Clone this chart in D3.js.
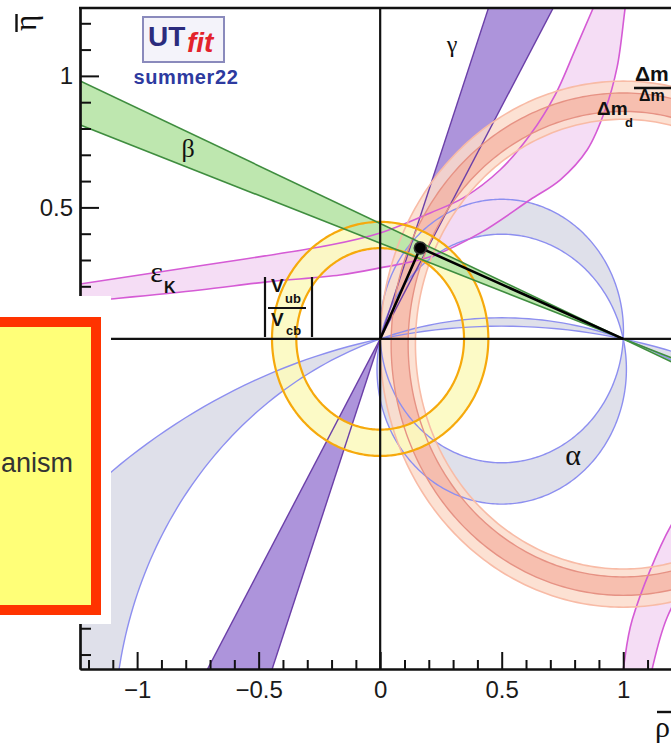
<!DOCTYPE html>
<html>
<head>
<meta charset="utf-8">
<script src="https://cdn.jsdelivr.net/npm/d3@7"></script>
<style>
  body { margin: 0; background: #fff; }
  svg { display: block; }
</style>
</head>
<body>
<svg id="chart" width="671" height="751"></svg>
<script>
// ---- Tick values -------------------------------------------------------
const xMajorTicks = [-1, -0.5, 0, 0.5, 1];
const xMinorTicks = [-1.2, -1.1, -0.9, -0.8, -0.7, -0.6, -0.4, -0.3, -0.2, -0.1,
                     0.1, 0.2, 0.3, 0.4, 0.6, 0.7, 0.8, 0.9, 1.1, 1.2];
const yMajorTicks = [-1, -0.5, 0, 0.5, 1];
const yLabelTicks = [0.5, 1];
const yMinorTicks = [-1.2, -1.1, -0.9, -0.8, -0.7, -0.6, -0.4, -0.3, -0.2, -0.1,
                     0.1, 0.2, 0.3, 0.4, 0.6, 0.7, 0.8, 0.9, 1.1, 1.2];

// ---- Unitarity-triangle constraints (rho-bar, eta-bar plane) -------------
const apex = [0.165, 0.346];                 // fitted apex of the triangle
const betaAngles = [20.0, 23.7];             // deg, band of lines through (1,0)
const gammaAngles = [60.5, 70.5];            // deg, band of lines through (0,0)
const vubRadii = [0.345, 0.445];             // |Vub/Vcb| annulus about (0,0)
const dmCentre = [1, -0.02];                 // centre of the Δm annuli
const dmdRadii = [0.855, 1.0];               // Δm_d annulus
const dmsRadii = [0.885, 0.955];             // Δm_s/Δm_d annulus
const alphaCentresA = [[0.5, 0.03], [0.5, -0.115]];   // circles through (0,0),(1,0)
const alphaCentresB = [[0.5, -1.515], [0.5, -2.557]]; // mirror solution
// ε_K band, upper-left branch edges
const epsUpperEdge = [[-1.40, 0.186], [-1.235, 0.209], [-0.741, 0.278], [-0.206, 0.357],
  [0, 0.403], [0.206, 0.479], [0.342, 0.536], [0.494, 0.643], [0.617, 0.776],
  [0.720, 0.928], [0.802, 1.099], [0.877, 1.259], [0.943, 1.40]];
const epsLowerEdge = [[-1.40, 0.128], [-1.235, 0.141], [-1.107, 0.152], [-0.741, 0.186],
  [-0.465, 0.217], [-0.165, 0.243], [0, 0.270], [0.206, 0.312], [0.412, 0.403],
  [0.617, 0.529], [0.741, 0.605], [0.852, 0.719], [0.926, 0.871], [0.975, 1.034],
  [1.008, 1.259], [1.029, 1.40]];
// ε_K band, lower-right branch edges
const epsRightEdgeA = [[0.975, -1.40], [1.0, -1.255], [1.037, -1.068], [1.198, -0.707], [1.30, -0.58]];
const epsRightEdgeB = [[1.09, -1.40], [1.119, -1.255], [1.18, -1.06], [1.30, -0.86]];

// ---- Scales ---------------------------------------------------------------
const x = d3.scaleLinear().domain([-1.235, 1.25]).range([80, 684]);
const y = d3.scaleLinear().domain([-1.255, 1.26]).range([669, 7.5]);

const svg = d3.select('#chart');
svg.append('defs').append('clipPath').attr('id', 'plotClip')
  .append('rect').attr('x', 80).attr('y', 8).attr('width', 604).attr('height', 661);

const plot = svg.append('g').attr('clip-path', 'url(#plotClip)');

// ---- Path helpers ---------------------------------------------------------
function circlePath(cx, cy, r) {
  const n = 360;
  const pts = d3.range(n).map(i => {
    const t = 2 * Math.PI * i / n;
    return [x(cx + r * Math.cos(t)), y(cy + r * Math.sin(t))];
  });
  return 'M' + pts.map(p => p.join(',')).join('L') + 'Z';
}
function doubleWedge(px, py, a1, a2) {
  const L = 4;
  const p = a => [x(px + L * Math.cos(a)), y(py + L * Math.sin(a))].join(',');
  const c = [x(px), y(py)].join(',');
  return `M${c}L${p(a1)}L${p(a2)}Z M${c}L${p(a1 + Math.PI)}L${p(a2 + Math.PI)}Z`;
}
function fullLine(px, py, a) {
  const L = 4;
  return `M${x(px - L * Math.cos(a))},${y(py - L * Math.sin(a))}L${x(px + L * Math.cos(a))},${y(py + L * Math.sin(a))}`;
}
const edge = d3.line().x(d => x(d[0])).y(d => y(d[1])).curve(d3.curveCatmullRom);
function bandBetween(a, b) {
  return edge(a) + edge(b.slice().reverse()).replace(/^M/, 'L') + 'Z';
}
const rad = d => d * Math.PI / 180;
const dist0 = c => Math.hypot(c[0], c[1]);
const alphaCircle = c => circlePath(c[0], c[1], dist0(c));

// ---- Band definitions -----------------------------------------------------
const bands = [
  { // α
    fill: '#dcdde8', stroke: '#8d8ff0', sw: 1.4,
    d: alphaCentresA.map(alphaCircle).join(''),
    lines: alphaCentresA.map(alphaCircle)
  },
  {
    fill: '#dcdde8', stroke: '#8d8ff0', sw: 1.4,
    d: alphaCentresB.map(alphaCircle).join(''),
    lines: alphaCentresB.map(alphaCircle)
  },
  { // γ
    fill: '#a68bd8', stroke: '#6b3fa8', sw: 1.4,
    d: doubleWedge(0, 0, rad(gammaAngles[0]), rad(gammaAngles[1])),
    lines: gammaAngles.map(a => fullLine(0, 0, rad(a)))
  },
  { // ε_K
    fill: '#f4daf4', stroke: '#d55bd5', sw: 1.6,
    d: bandBetween(epsUpperEdge, epsLowerEdge) + bandBetween(epsRightEdgeA, epsRightEdgeB),
    lines: [edge(epsUpperEdge), edge(epsLowerEdge), edge(epsRightEdgeA), edge(epsRightEdgeB)]
  },
  { // Δm_d
    fill: '#fcdccb', stroke: '#f8bba6', sw: 1.6, opacity: 0.85,
    d: dmdRadii.map(r => circlePath(dmCentre[0], dmCentre[1], r)).join(''),
    lines: dmdRadii.map(r => circlePath(dmCentre[0], dmCentre[1], r))
  },
  { // Δm_s/Δm_d
    fill: '#f4a898', stroke: '#e69284', sw: 1.4, opacity: 0.6,
    d: dmsRadii.map(r => circlePath(dmCentre[0], dmCentre[1], r)).join(''),
    lines: dmsRadii.map(r => circlePath(dmCentre[0], dmCentre[1], r))
  },
  { // |Vub/Vcb|
    fill: '#fcf9c0', stroke: '#f6a90c', sw: 2.2, opacity: 0.9,
    d: vubRadii.map(r => circlePath(0, 0, r)).join(''),
    lines: vubRadii.map(r => circlePath(0, 0, r))
  },
  { // β
    fill: '#b8e5a8', stroke: '#3f8d3f', sw: 1.6,
    d: doubleWedge(1, 0, Math.PI - rad(betaAngles[0]), Math.PI - rad(betaAngles[1])),
    lines: betaAngles.map(a => fullLine(1, 0, Math.PI - rad(a)))
  }
];

bands.forEach(b => {
  plot.append('path').attr('d', b.d).attr('fill', b.fill)
    .attr('fill-rule', 'evenodd').attr('fill-opacity', b.opacity || 0.92);
});
bands.forEach(b => {
  b.lines.forEach(l => plot.append('path').attr('d', l).attr('fill', 'none')
    .attr('stroke', b.stroke).attr('stroke-width', b.sw));
});

// ---- Zero lines ------------------------------------------------------------
plot.append('line').attr('x1', 80).attr('x2', 684).attr('y1', y(0)).attr('y2', y(0))
  .attr('stroke', '#111').attr('stroke-width', 2.2);
plot.append('line').attr('x1', x(0)).attr('x2', x(0)).attr('y1', 8).attr('y2', 669)
  .attr('stroke', '#111').attr('stroke-width', 2.2);

// ---- Triangle ------------------------------------------------------------
plot.append('path')
  .attr('d', d3.line().x(d => x(d[0])).y(d => y(d[1]))([[0, 0], apex, [1, 0]]))
  .attr('fill', 'none').attr('stroke', '#000').attr('stroke-width', 2.6)
  .attr('stroke-linejoin', 'round');
plot.append('circle').attr('cx', x(apex[0])).attr('cy', y(apex[1])).attr('r', 6)
  .attr('fill', '#000').attr('stroke', '#333').attr('stroke-width', 1.5);

// ---- Constraint labels ---------------------------------------------------
const serif = '"Liberation Serif", "DejaVu Serif", serif';
const sans = '"Liberation Sans", Arial, sans-serif';
const lab = svg.append('g').attr('fill', '#111');
lab.append('text').attr('x', x(-0.79)).attr('y', y(0.69)).attr('text-anchor', 'middle')
  .attr('font-family', serif).attr('font-size', 26).text('β');
lab.append('text').attr('x', x(0.296)).attr('y', y(1.09)).attr('text-anchor', 'middle')
  .attr('font-family', serif).attr('font-size', 24).text('γ');
lab.append('text').attr('x', x(0.794)).attr('y', y(-0.48)).attr('text-anchor', 'middle')
  .attr('font-family', serif).attr('font-size', 30).text('α');
lab.append('text').attr('x', x(-0.92)).attr('y', y(0.215)).attr('text-anchor', 'middle')
  .attr('font-family', serif).attr('font-size', 30).text('ε');
lab.append('text').attr('x', x(-0.866)).attr('y', y(0.175)).attr('text-anchor', 'middle')
  .attr('font-family', sans).attr('font-weight', 'bold').attr('font-size', 16).text('K');

// Δm_d
lab.append('text').attr('x', 597).attr('y', 115).attr('font-family', sans)
  .attr('font-weight', 'bold').attr('font-size', 19).text('Δm');
lab.append('text').attr('x', 625).attr('y', 127).attr('font-family', sans)
  .attr('font-weight', 'bold').attr('font-size', 13).text('d');
// Δm_s / Δm_d
lab.append('text').attr('x', 635).attr('y', 81).attr('font-family', sans)
  .attr('font-weight', 'bold').attr('font-size', 21).text('Δm');
lab.append('line').attr('x1', 634).attr('x2', 700).attr('y1', 88).attr('y2', 88)
  .attr('stroke', '#111').attr('stroke-width', 2.5);
lab.append('text').attr('x', 639).attr('y', 101).attr('font-family', sans)
  .attr('font-weight', 'bold').attr('font-size', 16).text('Δm');

// |Vub/Vcb|
const vl = lab.append('g');
[265, 312].forEach(px => vl.append('line').attr('x1', px).attr('x2', px)
  .attr('y1', 277).attr('y2', 337).attr('stroke', '#111').attr('stroke-width', 2.2));
vl.append('line').attr('x1', 268).attr('x2', 306).attr('y1', 308).attr('y2', 308)
  .attr('stroke', '#111').attr('stroke-width', 2.2);
vl.append('text').attr('x', 271).attr('y', 292).attr('font-family', sans)
  .attr('font-weight', 'bold').attr('font-size', 19).text('V');
vl.append('text').attr('x', 285).attr('y', 303).attr('font-family', sans)
  .attr('font-weight', 'bold').attr('font-size', 13).text('ub');
vl.append('text').attr('x', 271).attr('y', 326).attr('font-family', sans)
  .attr('font-weight', 'bold').attr('font-size', 19).text('V');
vl.append('text').attr('x', 286).attr('y', 335).attr('font-family', sans)
  .attr('font-weight', 'bold').attr('font-size', 13).text('cb');

// ---- Axes ----------------------------------------------------------------
const fmt = d3.format('~g');
const axX = svg.append('g').attr('transform', 'translate(0,669)')
  .call(d3.axisBottom(x).tickValues(xMajorTicks).tickSize(-17).tickSizeOuter(0)
    .tickPadding(12).tickFormat(fmt));
const axXm = svg.append('g').attr('transform', 'translate(0,669)')
  .call(d3.axisBottom(x).tickValues(xMinorTicks).tickSize(-9).tickSizeOuter(0).tickFormat(''));
const axY = svg.append('g').attr('transform', 'translate(80,0)')
  .call(d3.axisLeft(y).tickValues(yMajorTicks).tickSize(-19).tickSizeOuter(0)
    .tickPadding(7).tickFormat(d => yLabelTicks.includes(d) ? fmt(d) : ''));
const axYm = svg.append('g').attr('transform', 'translate(80,0)')
  .call(d3.axisLeft(y).tickValues(yMinorTicks).tickSize(-11).tickSizeOuter(0).tickFormat(''));
[axX, axXm, axY, axYm].forEach(a => {
  a.selectAll('.domain').attr('stroke', '#111').attr('stroke-width', 2.2);
  a.selectAll('.tick line').attr('stroke', '#111').attr('stroke-width', 2);
  a.selectAll('text').attr('font-family', sans).attr('font-size', 24).attr('fill', '#1a1a1a');
});
axY.selectAll('text').filter(function () { return this.textContent === ''; }).remove();
axXm.selectAll('text').remove();
axYm.selectAll('text').remove();
// top frame edge
svg.append('line').attr('x1', 79).attr('x2', 684).attr('y1', 8).attr('y2', 8)
  .attr('stroke', '#111').attr('stroke-width', 2.6);

// Axis titles
svg.append('text').attr('transform', 'translate(36,23) rotate(-90)')
  .attr('text-anchor', 'middle').attr('font-family', serif).attr('font-size', 31)
  .attr('fill', '#111').text('η');
svg.append('line').attr('x1', 16.5).attr('x2', 16.5).attr('y1', 14).attr('y2', 32)
  .attr('stroke', '#111').attr('stroke-width', 2.4);
svg.append('text').attr('x', 655).attr('y', 737).attr('font-family', serif)
  .attr('font-size', 30).attr('fill', '#111').text('ρ');
svg.append('line').attr('x1', 657).attr('x2', 680).attr('y1', 712).attr('y2', 712)
  .attr('stroke', '#111').attr('stroke-width', 2.4);

// ---- Logo ----------------------------------------------------------------
const logo = svg.append('g');
logo.append('rect').attr('x', 143).attr('y', 17).attr('width', 81).attr('height', 45)
  .attr('fill', '#f4f3fa').attr('stroke', '#8a8abc').attr('stroke-width', 2);
logo.append('text').attr('x', 148).attr('y', 46).attr('font-family', sans)
  .attr('font-weight', 'bold').attr('font-size', 28).attr('fill', '#2b2b7d').text('UT');
logo.append('text').attr('x', 187).attr('y', 52).attr('font-family', sans)
  .attr('font-weight', 'bold').attr('font-style', 'italic').attr('font-size', 28)
  .attr('fill', '#e3232c').text('fit');
logo.append('text').attr('x', 186).attr('y', 84).attr('text-anchor', 'middle')
  .attr('font-family', sans).attr('font-weight', 'bold').attr('font-size', 20)
  .attr('letter-spacing', 0.6).attr('fill', '#2d3a9f').text('summer22');

// ---- Overlay panel ----------------------------------------------------
svg.append('rect').attr('x', 0).attr('y', 296).attr('width', 111).attr('height', 328)
  .attr('fill', '#fff');
svg.append('rect').attr('x', -20).attr('y', 322).attr('width', 116).attr('height', 288)
  .attr('fill', '#ffff78').attr('stroke', '#ff3300').attr('stroke-width', 10);
svg.append('text').attr('x', 73).attr('y', 472).attr('text-anchor', 'end')
  .attr('font-family', sans).attr('font-size', 27).attr('fill', '#333').text('anism');
</script>
</body>
</html>
